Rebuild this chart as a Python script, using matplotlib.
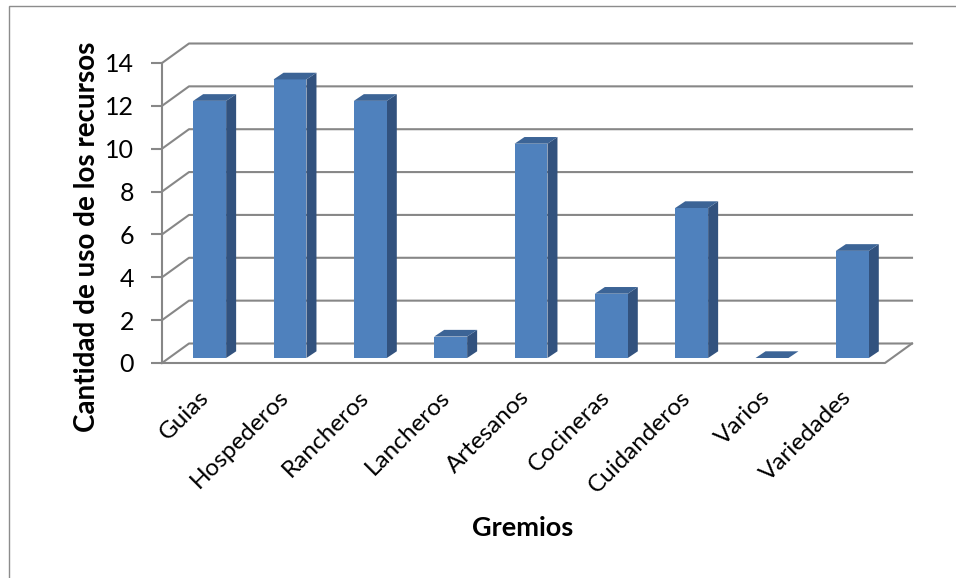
import matplotlib
matplotlib.use("Agg")
import matplotlib.pyplot as plt
from matplotlib.patches import Polygon, Rectangle
from matplotlib.lines import Line2D

# Data
gremios = ["Guias", "Hospederos", "Rancheros", "Lancheros", "Artesanos",
           "Cocineras", "Cuidanderos", "Varios", "Variedades"]
valores = [12, 13, 12, 1, 10, 3, 7, 0, 5]
y_ticks = [0, 2, 4, 6, 8, 10, 12, 14]

plt.rcParams["font.family"] = ["Lato", "DejaVu Sans"]

W, H = 956, 578
fig = plt.figure(figsize=(W / 100, H / 100), dpi=100)
fig.patch.set_facecolor("white")

# Outer chart border (left and top edges visible)
fig.add_artist(Rectangle((9 / W, -0.1), 1.2, 1.1 - 6 / H,
                         transform=fig.transFigure, fill=False,
                         edgecolor="#8c8c8c", lw=1.0))

# Front plane of the plot
ax = fig.add_axes([162 / W, 1 - 363 / H, 723 / W, 300 / H])
n = len(gremios)
ax.set_xlim(0, n)
ax.set_ylim(0, 14)
ax.set_facecolor("none")

grid_c = "#878787"
for s in ["top", "right", "bottom"]:
    ax.spines[s].set_visible(False)
ax.spines["left"].set_color(grid_c)
ax.spines["left"].set_linewidth(1.5)
ax.set_xticks([])
ax.set_yticks(y_ticks)
ax.tick_params(axis="y", length=8, width=1.5, color=grid_c, pad=12,
               labelsize=18, labelcolor="black")

fig.canvas.draw()
p0 = ax.transData.transform((0, 0))
p1 = ax.transData.transform((1, 1))
sx, sy = p1[0] - p0[0], p1[1] - p0[1]


def shift(x, y, d):
    return (x + d[0] / sx, y + d[1] / sy)


wall = (27, 19.5)     # depth of the floor / side wall, in pixels
front = (7.5, 5.0)    # front face of the bars
back = (17.5, 11.7)   # back face of the bars
lw = 1.5

# Side wall diagonals and back wall gridlines
for v in y_ticks:
    a = (0, v)
    b = shift(0, v, wall)
    c = shift(n, v, wall)
    ax.add_line(Line2D([a[0], b[0], c[0]], [a[1], b[1], c[1]], color=grid_c,
                       lw=lw, clip_on=False, zorder=1))
# Floor front edge and right edge
fr = shift(n, 0, wall)
ax.add_line(Line2D([0, n, fr[0]], [0, 0, fr[1]], color=grid_c, lw=lw,
                   clip_on=False, zorder=1))

# 3D bars
bw = 0.41
c_front, c_side, c_top = "#4F81BD", "#32527E", "#3C6496"
for i, v in enumerate(valores):
    x0 = i + 0.5 - bw / 2
    x1 = i + 0.5 + bw / 2
    f00 = shift(x0, 0, front); f10 = shift(x1, 0, front)
    f0v = shift(x0, v, front); f1v = shift(x1, v, front)
    b10 = shift(x1, 0, back)
    b0v = shift(x0, v, back); b1v = shift(x1, v, back)
    if v > 0:
        ax.add_patch(Polygon([f10, b10, b1v, f1v], closed=True,
                             facecolor=c_side, edgecolor="none",
                             clip_on=False, zorder=3))
        ax.add_patch(Polygon([f00, f10, f1v, f0v], closed=True,
                             facecolor=c_front, edgecolor="none",
                             clip_on=False, zorder=4))
    ax.add_patch(Polygon([f0v, f1v, b1v, b0v], closed=True,
                         facecolor=c_top, edgecolor="none",
                         clip_on=False, zorder=5))

# Category labels
for i, name in enumerate(gremios):
    lx, ly = shift(i + 0.5, 0, (3, -31))
    ax.text(lx, ly, name, rotation=45, rotation_mode="anchor",
            ha="right", va="center", fontsize=17.5, clip_on=False)

fig.text(87 / W, 1 - 237 / H, "Cantidad de uso de los recursos",
         rotation=90, ha="center", va="center", fontsize=20,
         fontweight="bold")
fig.text(523 / W, 1 - 528 / H, "Gremios", ha="center", va="center",
         fontsize=19.5, fontweight="bold")

fig.savefig("out.png", dpi=100, facecolor="white")
